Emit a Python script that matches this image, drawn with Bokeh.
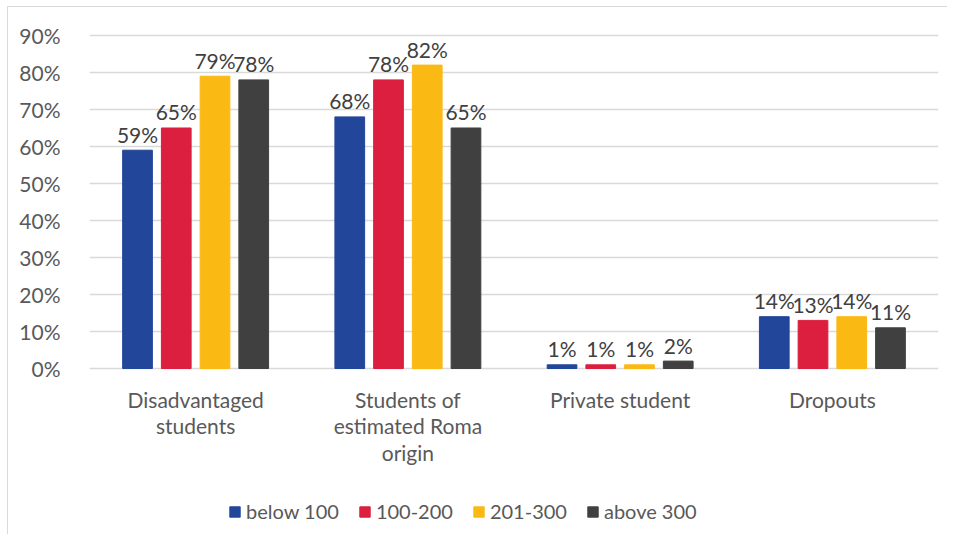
from bokeh.plotting import figure
from bokeh.models import (ColumnDataSource, FactorRange, Range1d, FixedTicker,
                          NumeralTickFormatter, Legend, LegendItem)
from bokeh.transform import dodge
from bokeh.core.properties import value
from bokeh.embed import file_html
from bokeh.resources import INLINE

categories = ["Disadvantaged students", "Students of estimated Roma origin",
              "Private student", "Dropouts"]
category_labels = ["Disadvantaged\nstudents", "Students of\nestimated Roma\norigin",
                   "Private student", "Dropouts"]
series_names = ["below 100", "100-200", "201-300", "above 300"]
below_100 = [0.59, 0.68, 0.01, 0.14]
s100_200 = [0.65, 0.78, 0.01, 0.13]
s201_300 = [0.79, 0.82, 0.01, 0.14]
above_300 = [0.78, 0.65, 0.02, 0.11]
y_ticks = [0.0, 0.1, 0.2, 0.3, 0.4, 0.5, 0.6, 0.7, 0.8, 0.9]

series_values = [below_100, s100_200, s201_300, above_300]
colors = ["#21469A", "#DC1E3F", "#FBB914", "#404040"]
offsets = [-0.27375, -0.09125, 0.09125, 0.27375]

FONT = "Lato"
FS = "21px"
GRAY = "#595959"

p = figure(x_range=FactorRange(factors=categories, range_padding=0),
           y_range=Range1d(-0.45135, 0.95135),
           width=940, height=528, output_backend="svg", toolbar_location=None,
           min_border_left=81, min_border_right=10, min_border_top=9,
           min_border_bottom=0)
p.outline_line_color = None
p.background_fill_color = "white"
p.border_fill_color = "white"
p.styles = {"border-top": "1px solid #d9d9d9", "border-left": "1px solid #d9d9d9",
            "margin-top": "6px", "margin-left": "7px"}

p.xaxis.visible = False
p.xgrid.grid_line_color = None
p.ygrid.grid_line_color = "#d9d9d9"
p.ygrid.grid_line_width = 1.5
p.yaxis.ticker = FixedTicker(ticks=y_ticks)
p.yaxis.formatter = NumeralTickFormatter(format="0%")
p.yaxis.axis_line_color = None
p.yaxis.major_tick_line_color = None
p.yaxis.minor_tick_line_color = None
p.yaxis.major_label_standoff = 23
p.yaxis.major_label_text_font = FONT
p.yaxis.major_label_text_font_size = FS
p.yaxis.major_label_text_color = GRAY

# category labels below the 0% line
cat_src = ColumnDataSource(dict(cat=categories, lab=category_labels,
                                y=[0.0] * len(categories)))
p.text(x="cat", y="y", text="lab", source=cat_src, text_align="center",
       text_baseline="top", y_offset=18, text_line_height=1.07,
       text_font=value(FONT), text_font_size=FS, text_color=GRAY)

items = []
for name, vals, col, off in zip(series_names, series_values, colors, offsets):
    src = ColumnDataSource(dict(cat=categories, val=vals,
                                lab=[f"{round(v*100)}%" for v in vals]))
    r = p.vbar(x=dodge("cat", off, range=p.x_range), top="val", width=0.14,
               source=src, fill_color=col, line_color=col)
    p.text(x=dodge("cat", off, range=p.x_range), y="val", text="lab", source=src,
           text_align="center", text_baseline="alphabetic", y_offset=-16,
           text_font=value(FONT), text_font_size=FS, text_color="#404040")
    items.append(LegendItem(label=name, renderers=[r]))

legend = Legend(items=items, orientation="horizontal", location=(139, 12),
                glyph_width=13, glyph_height=13, label_standoff=5, spacing=19,
                padding=0, margin=0, border_line_color=None,
                background_fill_alpha=0,
                label_text_font=FONT, label_text_font_size="20px",
                label_text_color=GRAY)
p.add_layout(legend, "center")

open("out.html", "w").write(file_html(p, INLINE))
